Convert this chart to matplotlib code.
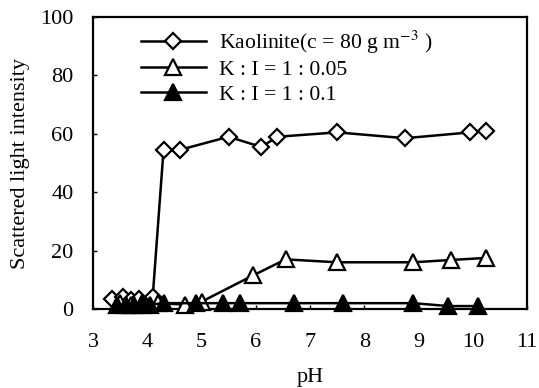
import numpy as np
import matplotlib.pyplot as plt

plt.rcParams['font.family'] = ['Liberation Serif', 'DejaVu Serif']
plt.rcParams['mathtext.fontset'] = 'stix'

# kaolinite alone
ph_k = [3.35, 3.55, 3.7, 3.85, 4.1, 4.3, 4.6, 5.5, 6.1, 6.4, 7.5, 8.75, 9.95, 10.25]
int_k = [3.5, 4.0, 3.0, 3.5, 4.0, 54.5, 54.5, 59.0, 55.5, 59.0, 60.5, 58.5, 60.5, 61.0]

# K : I = 1 : 0.05
ph_a = [3.5, 3.7, 3.9, 4.2, 4.7, 5.0, 5.95, 6.55, 7.5, 8.9, 9.6, 10.25]
int_a = [2.0, 1.5, 2.0, 2.0, 1.5, 2.5, 11.5, 17.0, 16.0, 16.0, 16.8, 17.5]

# K : I = 1 : 0.1
ph_b = [3.45, 3.6, 3.75, 3.9, 4.05, 4.3, 4.9, 5.4, 5.7, 6.7, 7.6, 8.9, 9.55, 10.1]
int_b = [1.5, 1.5, 1.5, 1.5, 1.5, 2.0, 2.0, 2.0, 2.0, 2.0, 2.0, 2.0, 1.0, 1.0]

fig = plt.figure(figsize=(5.39, 3.88), dpi=100)
ax = fig.add_axes([0.1725, 0.2036, 0.8055, 0.7525])

ax.plot(ph_k, int_k, '-D', color='black', lw=1.8, ms=8.5, mfc='white', mec='black', mew=1.6,
        clip_on=False, label='Kaolinite(c = 80 g m$^{-3}$ )', zorder=3)
ax.plot(ph_a, int_a, '-^', color='black', lw=1.8, ms=11, mfc='white', mec='black', mew=1.6,
        clip_on=False, label='K : I = 1 : 0.05', zorder=4)
ax.plot(ph_b, int_b, '-^', color='black', lw=1.8, ms=11, mfc='black', mec='black', mew=1.6,
        clip_on=False, label='K : I = 1 : 0.1', zorder=5)

ax.set_xlim(3, 11)
ax.set_ylim(0, 100)
ax.set_xticks(np.arange(3, 12, 1))
ax.set_yticks(np.arange(0, 101, 20))
ax.tick_params(direction='in', length=3, width=1, labelsize=16)
ax.tick_params(axis='x', pad=17)
ax.tick_params(axis='y', pad=14)
for s in ax.spines.values():
    s.set_linewidth(1.6)

ax.set_xlabel('pH', fontsize=16, labelpad=12)
ax.set_ylabel('Scattered light intensity', fontsize=16, labelpad=7)

ax.legend(loc='upper left', bbox_to_anchor=(0.065, 1.028), frameon=False, fontsize=15.6,
          handlelength=3.0, labelspacing=0.2, handletextpad=0.6)

plt.savefig('out.png', dpi=100)
